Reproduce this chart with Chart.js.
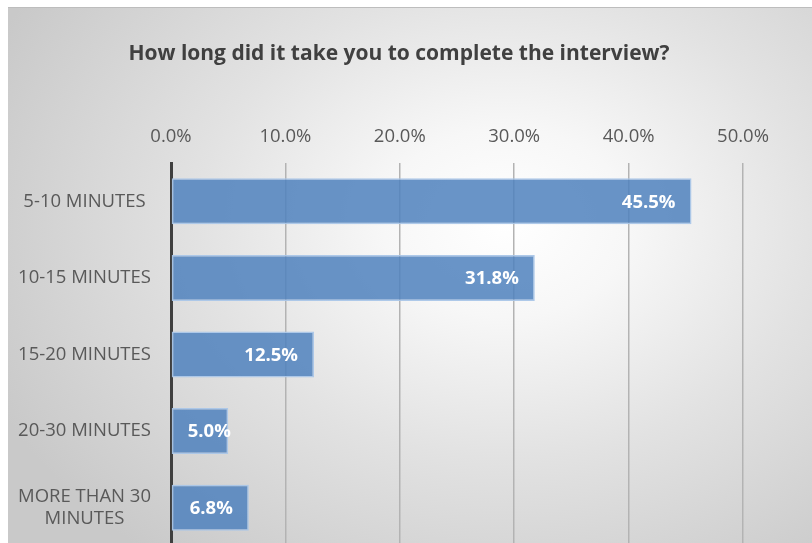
<!DOCTYPE html>
<html>
<head>
<meta charset="utf-8">
<script src="https://cdn.jsdelivr.net/npm/chart.js@4/dist/chart.umd.min.js"></script>
<style>
  html, body { margin: 0; padding: 0; background: #ffffff; overflow: hidden; width: 812px; height: 543px; }
  #frame {
    position: absolute; left: 8px; top: 7px; width: 804px; height: 536px;
    border-top: 1px solid #bdbdbd;
    overflow: hidden;
    background: radial-gradient(ellipse 70% 80% at 62% 40%, #ffffff 0%, #f7f7f7 22%, #e2e2e2 55%, #c9c9c9 100%);
  }
  #chart { position: absolute; left: 0; top: 0; display: block; }
</style>
</head>
<body>
<div id="frame">
  <canvas id="chart" width="782" height="540"></canvas>
</div>
<script>
// Survey answers: time taken to complete the interview (% of respondents)
const categories = ['5-10 MINUTES', '10-15 MINUTES', '15-20 MINUTES', '20-30 MINUTES', ['MORE THAN 30', 'MINUTES']];
const shares = [45.5, 31.8, 12.5, 5.0, 6.8];
const axisMax = 50;
const axisStep = 10;

const FONT = '"Open Sans", "Noto Sans", sans-serif';
const TEXT_SIZE = 18.5;
const TITLE_SIZE = 21;
const TITLE_PAD_TOP = 33;
const TITLE_PAD_BOTTOM = 10;

// White value labels near the end of each bar, kept inside the bar start
const valueLabels = {
  id: 'valueLabels',
  afterDatasetsDraw(chart) {
    const ctx = chart.ctx;
    const meta = chart.getDatasetMeta(0);
    ctx.save();
    ctx.font = 'bold ' + TEXT_SIZE + 'px ' + FONT;
    ctx.fillStyle = '#ffffff';
    ctx.textBaseline = 'middle';
    ctx.textAlign = 'left';
    meta.data.forEach((bar, i) => {
      const text = shares[i].toFixed(1) + '%';
      const w = ctx.measureText(text).width;
      let left = bar.x - 16 - w;
      if (left < bar.base + 16) left = bar.base + 16;
      ctx.fillText(text, left, bar.y + 1);
    });
    ctx.restore();
  }
};

new Chart(document.getElementById('chart'), {
  type: 'bar',
  data: {
    labels: categories,
    datasets: [{
      data: shares,
      backgroundColor: 'rgba(79,129,189,0.85)',
      borderColor: 'rgba(170,198,232,0.95)',
      borderWidth: 1.5,
      borderSkipped: false,
      barPercentage: 0.6,
      categoryPercentage: 1.0
    }]
  },
  options: {
    indexAxis: 'y',
    responsive: false,
    animation: false,
    layout: { padding: { left: 0, right: 0, top: 0, bottom: 2 } },
    plugins: {
      legend: { display: false },
      tooltip: { enabled: false },
      title: {
        display: true,
        text: 'How long did it take you to complete the interview?',
        color: '#404040',
        font: { family: FONT, size: TITLE_SIZE, weight: 'bold' },
        padding: { top: TITLE_PAD_TOP, bottom: TITLE_PAD_BOTTOM }
      }
    },
    scales: {
      x: {
        position: 'top',
        min: 0,
        max: axisMax,
        ticks: {
          stepSize: axisStep,
          color: '#595959',
          font: { family: FONT, size: TEXT_SIZE },
          padding: 15,
          callback: v => v.toFixed(1) + '%'
        },
        grid: {
          drawTicks: false,
          lineWidth: 1.5,
          color: c => (c.tick && c.tick.value === 0) ? 'rgba(0,0,0,0)' : '#b3b3b3'
        },
        border: { display: false },
        afterFit(scale) {
          scale.height = 155 - (TITLE_PAD_TOP + TITLE_SIZE * 1.2 + TITLE_PAD_BOTTOM);
        }
      },
      y: {
        ticks: {
          color: '#595959',
          font: { family: FONT, size: TEXT_SIZE },
          padding: 20,
          crossAlign: 'center'
        },
        grid: { display: false, drawTicks: false },
        border: { display: true, color: '#3f3f3f', width: 3 },
        afterFit(scale) {
          scale.width = 163;
          // let the plot run to the bottom edge; labels never overhang here
          scale.paddingTop = 0;
          scale.paddingBottom = 0;
        }
      },
      // empty margin on the right so the title sits centred over the whole frame
      yRight: {
        type: 'category',
        labels: categories,
        position: 'right',
        ticks: { display: false },
        grid: { display: false, drawTicks: false },
        border: { display: false },
        afterFit(scale) { scale.width = 47; }
      }
    }
  },
  plugins: [valueLabels]
});
</script>
</body>
</html>
